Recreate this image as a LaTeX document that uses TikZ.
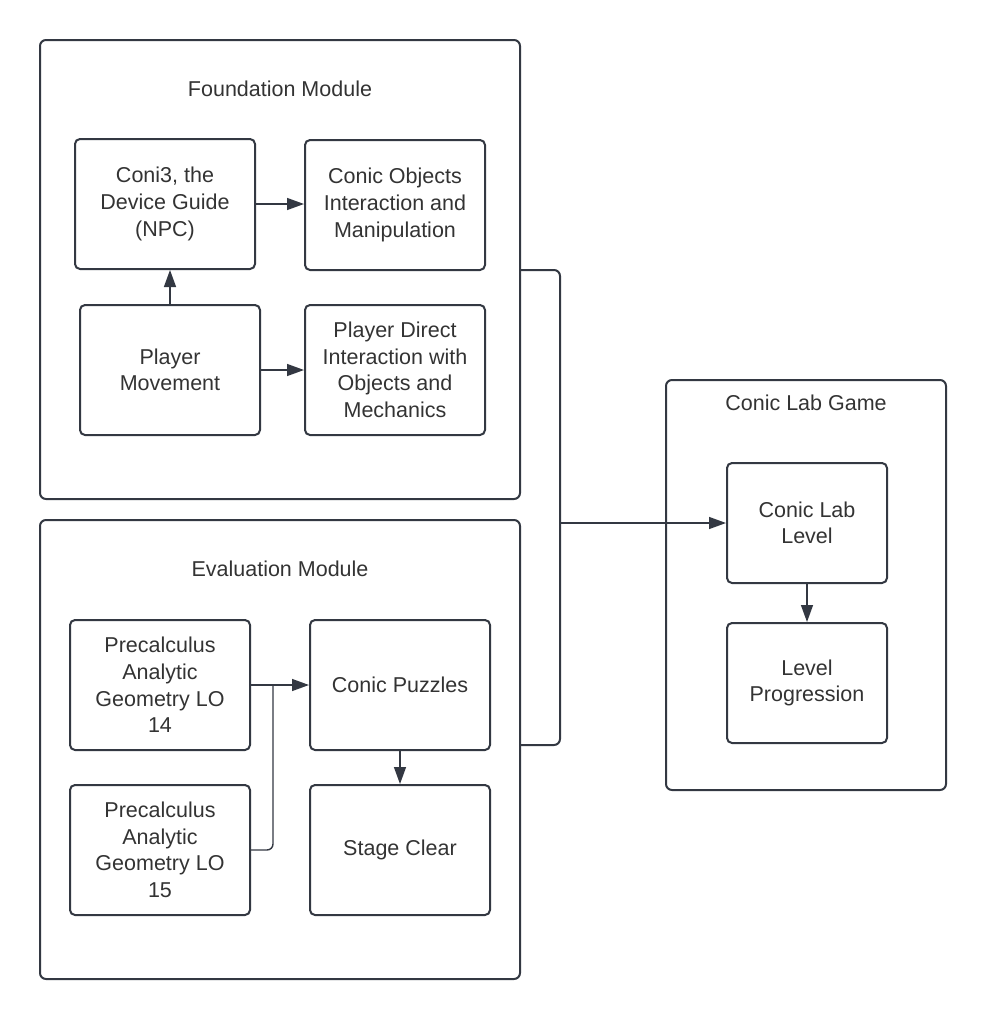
\documentclass[tikz,border=0pt]{standalone}
\usepackage{fontspec}
\setmainfont{Liberation Sans}
\usetikzlibrary{arrows.meta,positioning}
\definecolor{edge}{HTML}{333842}
\definecolor{ink}{HTML}{333333}
\begin{document}
\begin{tikzpicture}[x=1pt,y=-1pt,
  frame/.style={draw=edge, line width=2pt, rounded corners=6pt},
  card/.style={draw=edge, line width=2pt, rounded corners=5pt, align=center,
    text=ink, font=\fontsize{21.5}{26.6}\selectfont, inner sep=0pt},
  heading/.style={text=ink, font=\fontsize{21.5}{26.6}\selectfont},
  link/.style={draw=edge, line width=1.4pt, -{Triangle[length=17pt,width=12pt]}},
  wire/.style={draw=edge, line width=1.4pt, rounded corners=6pt},
  bus/.style={draw=edge, line width=2pt, rounded corners=6pt}]
\useasboundingbox (0,0) rectangle (986,1020);

% module frames
\draw[frame] (40,40) rectangle (520,499);
\node[heading] (fmt) at (280,89) {Foundation Module};
\draw[frame] (40,520) rectangle (520,979);
\node[heading] (emt) at (280,569) {Evaluation Module};
\draw[frame] (666,380) rectangle (946,790);
\node[heading] (gmt) at (806,403) {Conic Lab Game};

\coordinate (fR) at (520,270);
\coordinate (eR) at (520,745);

% foundation cards
\node[card, minimum width=180pt, minimum height=130pt] (coni) at (165,204) {Coni3, the\\Device Guide\\(NPC)};
\node[card, minimum width=180pt, minimum height=130pt] (obj) at (395,205) {Conic Objects\\Interaction and\\Manipulation};
\node[card, minimum width=180pt, minimum height=130pt] (move) at (170,370) {Player\\Movement};
\node[card, minimum width=180pt, minimum height=130pt] (direct) at (395,370) {Player Direct\\Interaction with\\Objects and\\Mechanics};

% evaluation cards
\node[card, minimum width=180pt, minimum height=130pt] (lo14) at (160,685) {Precalculus\\Analytic\\Geometry LO\\14};
\node[card, minimum width=180pt, minimum height=130pt] (puz) at (400,685) {Conic Puzzles};
\node[card, minimum width=180pt, minimum height=130pt] (lo15) at (160,850) {Precalculus\\Analytic\\Geometry LO\\15};
\node[card, minimum width=180pt, minimum height=130pt] (clear) at (400,850) {Stage Clear};

% game cards
\node[card, minimum width=160pt, minimum height=120pt] (lvl) at (807,523) {Conic Lab\\Level};
\node[card, minimum width=160pt, minimum height=120pt] (prog) at (807,683) {Level\\Progression};

% connectors inside foundation
\draw[link] (coni.east) -- (obj.west |- coni.east);
\draw[link] (move.north) -- (move.north |- coni.south);
\draw[link] (move.east) -- (direct.west |- move.east);

% connectors inside evaluation
\coordinate (jn) at (273,685);
\draw[link] (lo14.east) -- (puz.west);
\draw[wire] (lo15.east) -| (jn);
\draw[link] (puz.south) -- (clear.north);

% modules feed the game
\coordinate (busT) at (560,270);
\coordinate (busB) at (560,745);
\coordinate (busM) at (560,523);
\draw[bus] (fR) -- (busT) -- (busB) -- (eR);
\draw[link] (busM) -- (lvl.west);
\draw[link] (lvl.south) -- (prog.north);
\end{tikzpicture}
\end{document}
